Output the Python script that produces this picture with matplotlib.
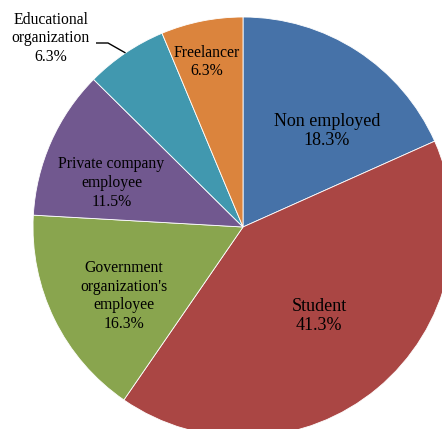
import math

import matplotlib
matplotlib.use("Agg")
import matplotlib.pyplot as plt

# share of respondents by occupation, clockwise from 12 o'clock
categories = [
    "Non employed",
    "Student",
    "Government\norganization's\nemployee",
    "Private company\nemployee",
    "Educational\norganization",
    "Freelancer",
]
shares = [18.3, 41.3, 16.3, 11.5, 6.3, 6.3]
colors = ["#4672A8", "#AA4644", "#89A54E", "#71588F", "#4198AF", "#DB843D"]

W, H = 442, 429
CX, CY, R = 243, 227, 210  # pie centre and radius in pixels (y down)


def px(x, y):
    """pixel position (y measured from top) -> data coords"""
    return x, H - y


fig = plt.figure(figsize=(W / 100, H / 100), dpi=100)
ax = fig.add_axes([0, 0, 1, 1])
plt.rcParams["font.family"] = ["Liberation Serif", "DejaVu Serif"]

wedges, _ = ax.pie(
    shares,
    colors=colors,
    startangle=90,
    counterclock=False,
    radius=R,
    center=px(CX, CY),
    wedgeprops=dict(edgecolor="white", linewidth=0.6),
)
ax.set_xlim(0, W)
ax.set_ylim(0, H)
ax.set_aspect("equal")
ax.axis("off")

# label centres relative to the pie centre (pixels), and font size
label_offsets = [(84, -96), (76, 89), (-119, 69), (-131.5, -44), (-192, -188.5), (-36.5, -165)]
label_sizes = [13, 13, 11.3, 11.3, 11.3, 11.3]

for name, val, (dx, dy), fs in zip(categories, shares, label_offsets, label_sizes):
    ax.text(*px(CX + dx, CY + dy), "{}\n{:.1f}%".format(name, val),
            ha="center", va="center", multialignment="center",
            fontsize=fs, linespacing=1.22, color="black")

# leader line for the narrow educational slice
cum = 0.0
for i, val in enumerate(shares):
    if categories[i].startswith("Educational"):
        mid = math.radians((cum + val / 2) / 100 * 360)
        ex, ey = CX + R * math.sin(mid), CY - R * math.cos(mid)
        xs, ys = zip(*[px(96, 43), px(108, 43), px(ex, ey)])
        ax.plot(xs, ys, color="black", linewidth=1.0, solid_capstyle="butt")
    cum += val

fig.savefig("out.png", dpi=100)
